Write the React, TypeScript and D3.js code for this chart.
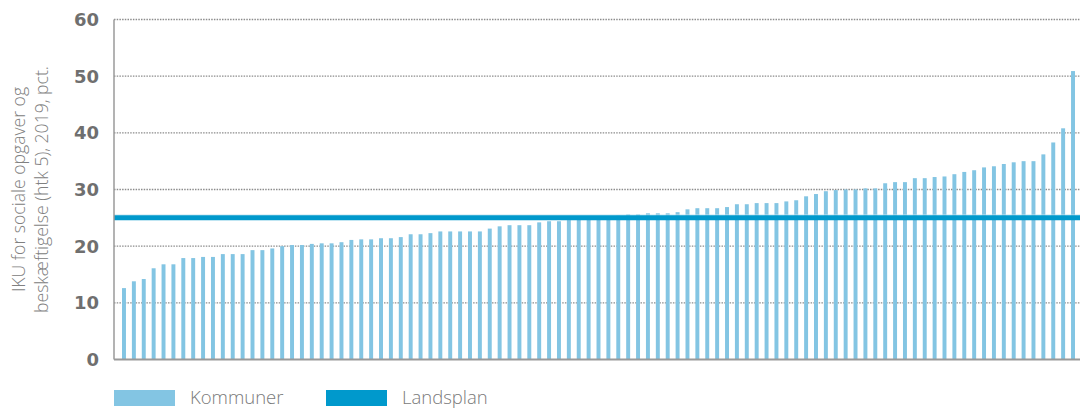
import React, { useEffect } from "react";
import * as d3 from "d3";

// IKU per kommune, sorted ascending
const kommuneValues = [
  12.6, 13.8, 14.2, 16.1, 16.8, 16.8, 17.9, 17.9, 18.1, 18.1,
  18.6, 18.6, 18.6, 19.3, 19.3, 19.6, 20.0, 20.2, 20.2, 20.4,
  20.5, 20.5, 20.7, 21.1, 21.2, 21.2, 21.4, 21.4, 21.6, 22.1,
  22.1, 22.3, 22.6, 22.6, 22.6, 22.6, 22.6, 23.1, 23.5, 23.7,
  23.7, 23.7, 24.2, 24.4, 24.4, 24.6, 24.8, 24.9, 25.0, 25.2,
  25.4, 25.6, 25.6, 25.8, 25.8, 25.8, 26.0, 26.5, 26.7, 26.7,
  26.7, 26.9, 27.4, 27.4, 27.6, 27.6, 27.6, 27.9, 28.1, 28.8,
  29.2, 29.7, 29.9, 30.0, 30.0, 30.2, 30.2, 31.1, 31.3, 31.3,
  32.0, 32.0, 32.2, 32.3, 32.7, 33.1, 33.4, 33.9, 34.1, 34.5,
  34.8, 35.0, 35.0, 36.2, 38.3, 40.8, 50.9,
];
const landsplan = 25.0;
const yTicks = [0, 10, 20, 30, 40, 50, 60];
const yTitle = ["IKU for sociale opgaver og", "beskæftigelse (htk 5), 2019, pct."];
const legendItems = [
  { label: "Kommuner", color: "#83c5e3" },
  { label: "Landsplan", color: "#0099cc" },
];

const W = 1080;
const H = 408;
const plot = { left: 114, right: 1080, top: 19.5, bottom: 359.5 };

export default function App() {
  useEffect(() => {
    document.body.style.margin = "0";
  }, []);

  const idx = kommuneValues.map((_, i) => i);
  const x = d3
    .scaleBand<number>()
    .domain(idx)
    .range([plot.left, 1083])
    .paddingInner(0.6)
    .paddingOuter(0.81);
  const y = d3.scaleLinear().domain([0, 60]).range([plot.bottom, plot.top]);

  const font = "'Open Sans', 'DejaVu Sans', sans-serif";

  return (
    <svg width={W} height={H} style={{ display: "block" }}>
      {/* gridlines */}
      {yTicks
        .filter((t) => t > 0)
        .map((t) => (
          <line
            key={"g" + t}
            x1={plot.left}
            x2={plot.right}
            y1={y(t)}
            y2={y(t)}
            stroke="#8c8c8c"
            strokeWidth={1.3}
            strokeDasharray="1.5 1.2"
          />
        ))}

      {/* bars */}
      {kommuneValues.map((v, i) => (
        <rect
          key={i}
          x={x(i)}
          y={y(v)}
          width={x.bandwidth()}
          height={y(0) - y(v)}
          fill="#83c5e3"
        />
      ))}

      {/* landsplan line */}
      <line
        x1={plot.left}
        x2={plot.right}
        y1={y(landsplan) - 2.8}
        y2={y(landsplan) - 2.8}
        stroke="#bfe3f1"
        strokeWidth={1}
      />
      <line
        x1={plot.left}
        x2={plot.right}
        y1={y(landsplan)}
        y2={y(landsplan)}
        stroke="#0099cc"
        strokeWidth={5}
      />

      {/* axes */}
      <line x1={plot.left} x2={plot.left} y1={plot.top} y2={plot.bottom} stroke="#9a9a9a" strokeWidth={1.5} />
      <line x1={plot.left} x2={plot.right} y1={plot.bottom} y2={plot.bottom} stroke="#9a9a9a" strokeWidth={2} />

      {/* tick labels */}
      {yTicks.map((t) => (
        <text
          key={"t" + t}
          x={99}
          y={y(t)}
          dy="0.36em"
          textAnchor="end"
          fontFamily="'DejaVu Sans', sans-serif"
          fontWeight={700}
          fontSize={18}
          fill="#6f6f6f"
        >
          {t}
        </text>
      ))}

      {/* y title */}
      <g transform={`translate(28, ${(plot.top + plot.bottom) / 2}) rotate(-90)`}>
        {yTitle.map((line, i) => (
          <text
            key={i}
            x={0}
            y={i * 23 - 3}
            textAnchor="middle"
            fontFamily={font}
            fontWeight={300}
            fontSize={17.6}
            fill="#808080"
          >
            {line}
          </text>
        ))}
      </g>

      {/* legend */}
      {legendItems.map((d, i) => {
        const lx = 114 + i * 212;
        return (
          <g key={d.label} transform={`translate(${lx}, 390)`}>
            <rect x={0} y={0} width={61} height={16} fill={d.color} />
            <text
              x={76}
              y={13.5}
              fontFamily={font}
              fontWeight={300}
              fontSize={18.5}
              fill="#7a7a7a"
            >
              {d.label}
            </text>
          </g>
        );
      })}
    </svg>
  );
}
